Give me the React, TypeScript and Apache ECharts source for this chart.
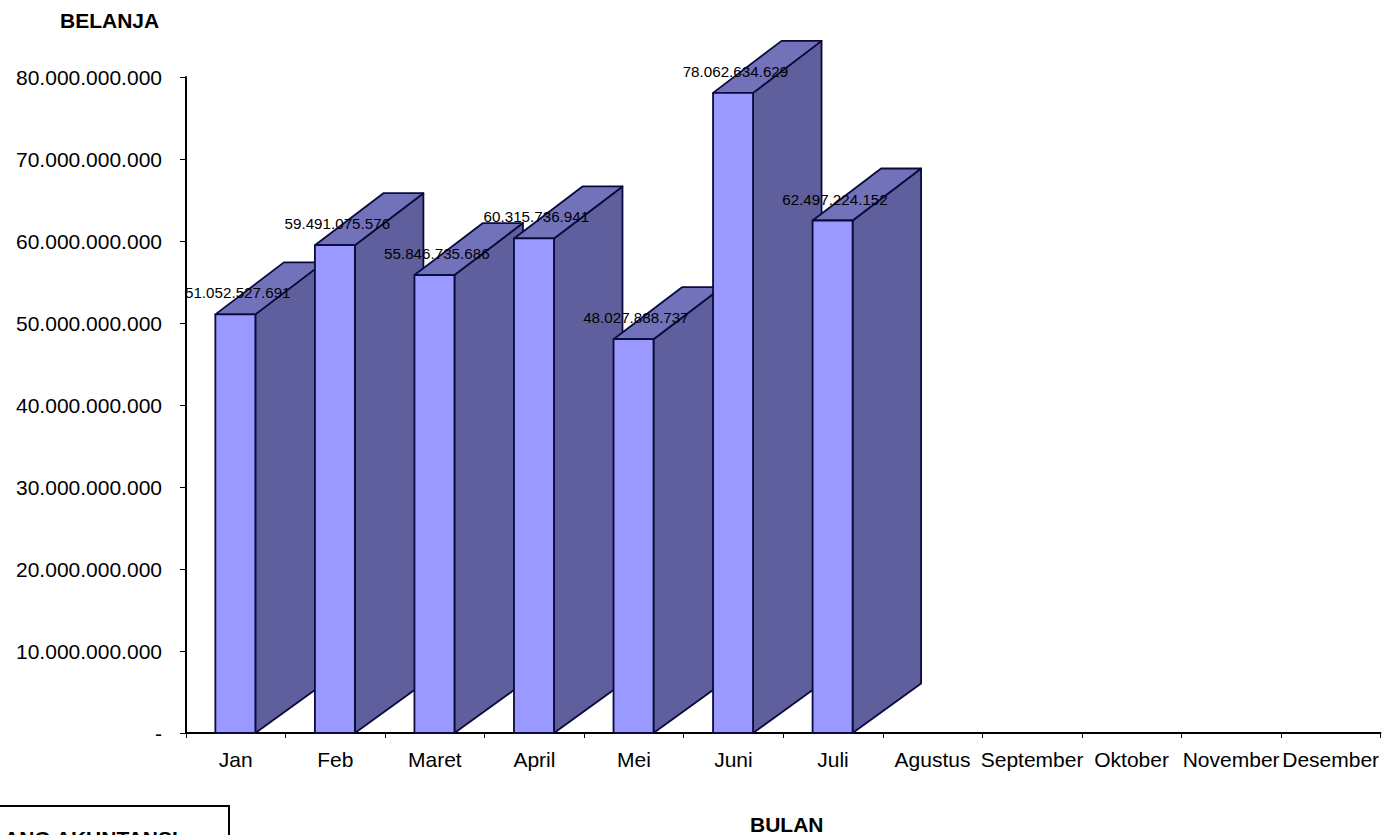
import React, { useEffect, useRef } from "react";
import * as echarts from "echarts";

const categories = ["Jan", "Feb", "Maret", "April", "Mei", "Juni", "Juli", "Agustus", "September", "Oktober", "November", "Desember"];
const values: (number | null)[] = [51052527691, 59491075576, 55846735686, 60315736941, 48027888737, 78062634629, 62497224152, null, null, null, null, null];
const yTicks = { min: 0, max: 80000000000, interval: 10000000000 };

const FONT = '"Liberation Sans", Arial, sans-serif';
const dots = (v: number) => String(Math.round(v)).replace(/\B(?=(\d{3})+(?!\d))/g, ".");

function renderBar(params: any, api: any) {
  const v = api.value(1);
  if (v == null || isNaN(v)) return { type: "group", children: [] };
  const [cx, yTop] = api.coord([api.value(0), v]);
  const [, y0] = api.coord([api.value(0), 0]);
  const x0 = cx - 20.4;
  const x1 = x0 + 40;
  const dx = 68.5;
  const dy = 52;
  const dyBase = 49.5;
  const line = { stroke: "#0a0a3c", lineWidth: 1.8, lineJoin: "round" };
  return {
    type: "group",
    children: [
      { type: "polygon", shape: { points: [[x1, y0], [x1, yTop], [x1 + dx, yTop - dy], [x1 + dx, y0 - dyBase]] }, style: { fill: "#5f5f9e", ...line } },
      { type: "polygon", shape: { points: [[x0, yTop], [x1, yTop], [x1 + dx, yTop - dy], [x0 + dx, yTop - dy]] }, style: { fill: "#7272ba", ...line } },
      { type: "rect", shape: { x: x0, y: yTop, width: x1 - x0, height: y0 - yTop }, style: { fill: "#9999ff", ...line } },
    ],
  };
}

function renderLabel(params: any, api: any) {
  const v = api.value(1);
  if (v == null || isNaN(v)) return { type: "group", children: [] };
  const [cx, yTop] = api.coord([api.value(0), v]);
  return {
    type: "text",
    style: { x: cx + 2, y: yTop - 21.5, text: dots(v), fill: "#000", font: `15.2px ${FONT}`, align: "center", verticalAlign: "middle" },
  };
}

export default function App() {
  const ref = useRef<HTMLDivElement>(null);
  useEffect(() => {
    const chart = echarts.init(ref.current!, undefined, { renderer: "svg" });
    const seriesData = categories.map((_, i) => [i, values[i]]);
    chart.setOption({
      animation: false,
      backgroundColor: "#fff",
      grid: { left: 186, right: -1, top: 77, bottom: 102, containLabel: false },
      xAxis: {
        type: "category",
        data: categories,
        boundaryGap: true,
        axisLine: { lineStyle: { color: "#000", width: 2 } },
        axisTick: { show: true, alignWithLabel: false, interval: 0, length: 5, lineStyle: { color: "#000", width: 1 } },
        axisLabel: { color: "#000", fontFamily: FONT, fontSize: 21, margin: 16, interval: 0, hideOverlap: false },
        splitLine: { show: false },
      },
      yAxis: {
        type: "value",
        min: yTicks.min,
        max: yTicks.max,
        interval: yTicks.interval,
        axisLine: { show: true, lineStyle: { color: "#000", width: 2 } },
        axisTick: { show: true, length: 6, lineStyle: { color: "#000", width: 1 } },
        axisLabel: { color: "#000", fontFamily: FONT, fontSize: 21, margin: 24, formatter: (v: number) => (v === 0 ? "-" : dots(v)) },
        splitLine: { show: false },
      },
      series: [
        { type: "custom", data: seriesData, encode: { x: 0, y: 1 }, clip: false, renderItem: renderBar, z: 2 },
        { type: "custom", data: seriesData, encode: { x: 0, y: 1 }, clip: false, renderItem: renderLabel, z: 3 },
      ],
      graphic: [
        { type: "text", left: 60, top: 10, style: { text: "BELANJA", fill: "#000", font: `bold 21px ${FONT}` } },
        { type: "text", left: 750, top: 814, style: { text: "BULAN", fill: "#000", font: `bold 21px ${FONT}` } },
        { type: "rect", shape: { x: -5, y: 806, width: 234, height: 60 }, style: { fill: "#fff", stroke: "#000", lineWidth: 2 } },
        { type: "text", left: 4, top: 828, style: { text: "ANG AKUNTANSI", fill: "#000", font: `bold 21px ${FONT}` } },
      ],
    });
    return () => chart.dispose();
  }, []);
  return <div ref={ref} style={{ position: "fixed", left: 0, top: 0, width: 1382, height: 835 }} />;
}
